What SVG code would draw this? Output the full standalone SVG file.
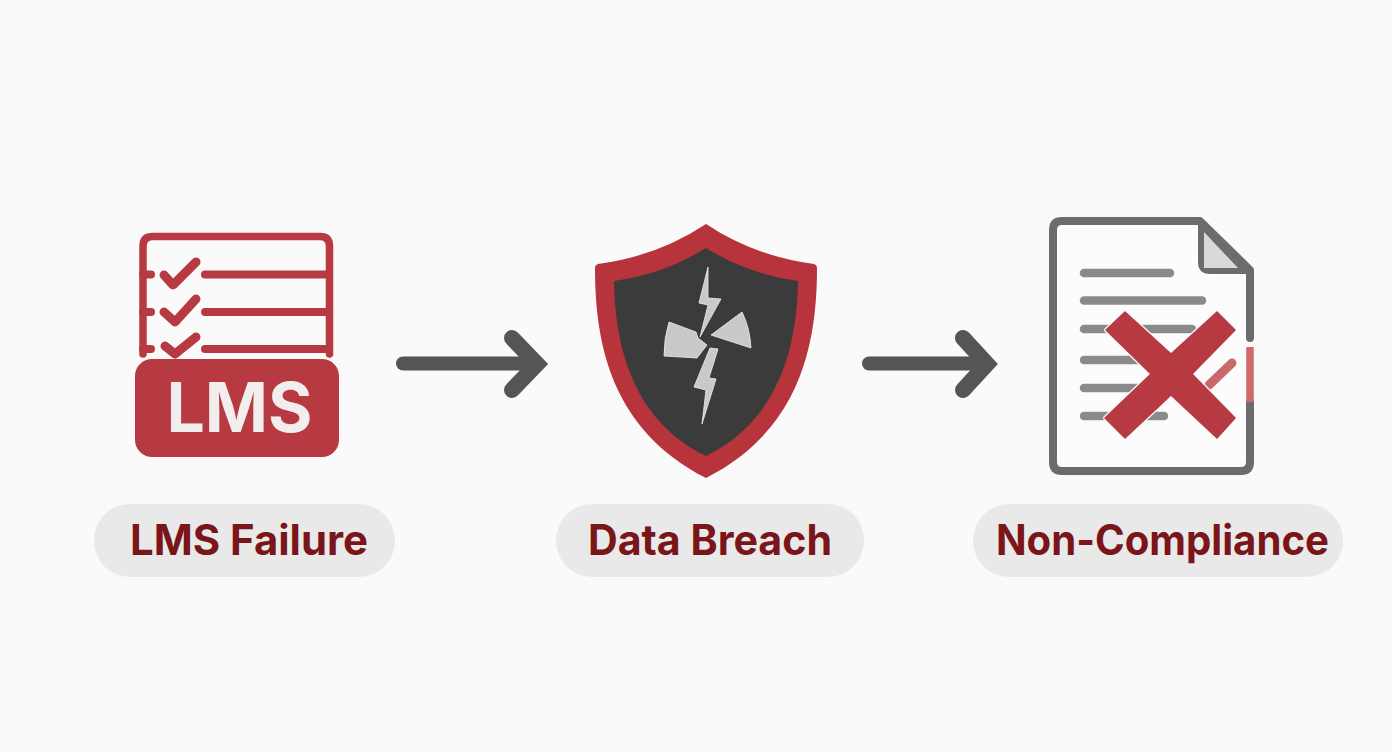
<svg xmlns="http://www.w3.org/2000/svg" width="1392" height="752" viewBox="0 0 1392 752">
<style>
.red{stroke:#b73a43;fill:none;stroke-linecap:round;stroke-linejoin:round}
.gl{stroke:#8a8a8c;stroke-width:8.500;stroke-linecap:round;fill:none}
.doc{stroke:#6c6c6e;stroke-width:8;fill:none;stroke-linecap:round;stroke-linejoin:round}
.pill{fill:#e9e9e9}
.lbl{font-family:Inter,"Liberation Sans",sans-serif;font-weight:700;font-size:42px;fill:#7a1519;text-anchor:middle}
.arrow{stroke:#555557;stroke-width:14;fill:none;stroke-linecap:round;stroke-linejoin:miter;stroke-miterlimit:4}
.bolt{fill:#c9c9ca;stroke:#f0f0f0;stroke-width:.8}
</style>
<rect width="1392" height="752" fill="#fafafa"/>
<g id="connectors">
<path class="arrow" d="M403 363.500H532"/>
<path class="arrow" stroke-width="16" style="stroke-width:16" d="M512 338L537 364L512 390"/>
<path class="arrow" d="M869 363.500H982"/>
<path class="arrow" style="stroke-width:16" d="M963 338L987 364L963 390"/>
</g>
<g id="lms-failure">
<path class="red" stroke-width="7.500" d="M143 354V246Q143 236.500 153 236.500H320Q329.500 236.500 329.500 246V354"/>
<g class="red" stroke-width="8"><path d="M143 274.500H151M143 312H151M143 349H151M205 274.500H328M205 312H328M205 349H328"/></g>
<g class="red" stroke-width="9"><path d="M164 275L173 285L196 262M164 312L175 322L196 299M165 346L175 354L196 337"/></g>
<rect x="135" y="359" width="204" height="98" rx="17" fill="#b73a43"/>
<text x="239.500" y="432" font-family="Inter,Liberation Sans,sans-serif" font-weight="700" font-size="69" fill="#f3eeee" text-anchor="middle" textLength="146" lengthAdjust="spacingAndGlyphs">LMS</text>
<rect class="pill" x="94" y="504" width="301" height="73" rx="36"/>
<text class="lbl" x="249" y="555" textLength="238" lengthAdjust="spacingAndGlyphs">LMS Failure</text>
</g>
<g id="data-breach">
<path fill="#b8343c" d="M706 224Q658 256 598 264Q595 265 595 268C595 345 612 430 706 478C800 430 817 345 817 268Q817 265 814 264Q754 256 706 224Z"/>
<path fill="#3c3b3c" d="M706 248Q664 274 614 281C615 345 632 420 706 456C780 420 797 345 798 281Q748 274 706 248Z"/>
<path class="bolt" d="M708 267L699 303L708 305L700 337L721 299L708 298Z"/>
<path class="bolt" d="M710 348L718 349L709 378L716 379L702 424L706 390L694 387Z"/>
<path class="bolt" d="M669 322L696 332L698 338L707 345L697 358L664 356Q664 338 669 322Z"/>
<path class="bolt" d="M742 312Q750 328 751 348L711 335Z"/>
<rect class="pill" x="556" y="504" width="308" height="73" rx="36"/>
<text class="lbl" x="710" y="555" textLength="244" lengthAdjust="spacingAndGlyphs">Data Breach</text>
</g>
<g id="non-compliance">
<path d="M1051 222H1198L1249 272V467H1051Z" fill="#fcfcfc"/>
<path class="doc" d="M1250 338V270L1200 221H1062Q1053 221 1053 230V462Q1053 471 1062 471H1241Q1250 471 1250 462V402"/>
<path d="M1200 224L1250 270V272H1210Q1200 272 1200 262Z" fill="#6c6c6e" stroke="#6c6c6e" stroke-width="4" stroke-linejoin="round"/>
<path d="M1204 232L1238 268H1204Z" fill="#d9d9db"/>
<path d="M1250 347V402" stroke="#d0686a" stroke-width="7.500" fill="none"/>
<g class="gl"><path d="M1084 273H1170M1084 300.500H1202M1084 329H1192M1084 360H1140M1084 388H1140M1084 416H1164"/></g>
<path d="M1209 385L1232 363" stroke="#c9696b" stroke-width="9" stroke-linecap="round" fill="none"/>
<path id="x-halo" d="M1125 312L1171 354L1217 312L1235 330L1192 374L1235 418L1217 438L1171 395L1125 438L1105 418L1151 374L1106 330Z" fill="#fafafa" stroke="#fafafa" stroke-width="4" stroke-linejoin="round"/>
<path d="M1125 312L1171 354L1217 312L1235 330L1192 374L1235 418L1217 438L1171 395L1125 438L1105 418L1151 374L1106 330Z" fill="#b73a43" stroke="#b73a43" stroke-width="1.500" stroke-linejoin="round"/>
<rect class="pill" x="973" y="504" width="370" height="73" rx="36"/>
<text class="lbl" x="1162.500" y="555" textLength="333" lengthAdjust="spacingAndGlyphs">Non-Compliance</text>
</g>
</svg>
